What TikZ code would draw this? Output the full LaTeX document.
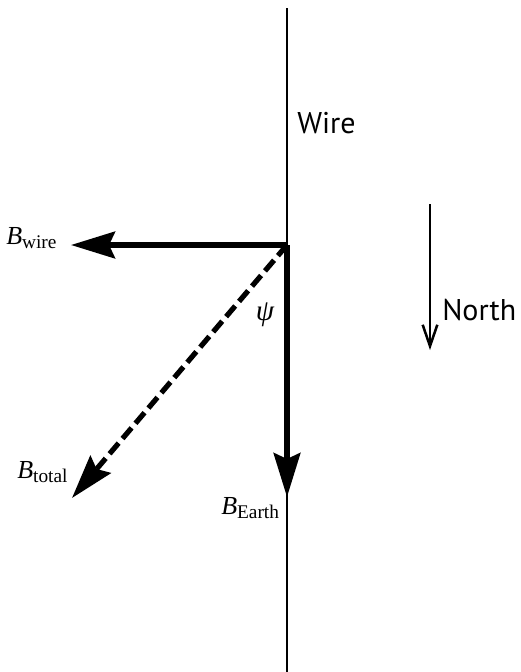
\documentclass[tikz,border=0pt]{standalone}
\usepackage{fontspec}
\setmainfont{Liberation Serif}
\newfontfamily\labelsans{PT Sans}
\usepackage{tikz}
\usetikzlibrary{arrows.meta, positioning}
\newcommand{\fieldlbl}[1]{{\fontsize{19.5}{22}\selectfont\itshape B}\raisebox{-3.5pt}{\fontsize{14.5}{16}\selectfont #1}}
\tikzset{
  %% ---- lines ----
  wireline/.style   = {line width=2pt},
  field/.style      = {-{Stealth[length=33pt, width=20pt, inset=4.5pt]},
                       line width=3.9pt},
  totalfield/.style = {field, dash pattern=on 10.5pt off 4.5pt},
  compass/.style    = {-{Straight Barb[length=16pt, width=11pt]}, line width=1.9pt},
  %% ---- labels ----
  symlbl/.style     = {inner sep=0pt, anchor=base west},
  textlbl/.style    = {inner sep=0pt, anchor=west,
                       font=\labelsans\fontsize{22.5}{26}\selectfont},
}

\begin{document}
\begin{tikzpicture}[x=0.75pt, y=-0.75pt]
\useasboundingbox (0,0) rectangle (521,672);

% Points
\coordinate (wiretop)   at (287,8);
\coordinate (wirebot)   at (287,672);
\coordinate (corner)    at (287,245);
\coordinate (bwiretip)  at (71,245);
\coordinate (bearthtip) at (287,497);
\coordinate (btotaltip) at (72,498);
\coordinate (northtop)  at (430,204);
\coordinate (northtip)  at (430,350);

% Labels
\node[symlbl]  (bwire)    at (6,244)   {\fieldlbl{wire}};
\node[symlbl]  (btotal)   at (17,478)  {\fieldlbl{total}};
\node[symlbl]  (bearth)   at (221,514) {\fieldlbl{Earth}};
\node[inner sep=0pt] (psi) at (265,315) {\fontsize{22}{24}\selectfont\itshape ψ};
\node[textlbl] (wirelbl)  at (297,123) {Wire};
\node[textlbl] (northlbl) at (442,310) {North};

% Wire
\draw[wireline] (wiretop) -- (wirebot);

% Field vectors
\draw[field]      (corner) -- (bwiretip);
\draw[field]      (corner) -- (bearthtip);
\draw[totalfield] (corner) -- (btotaltip);

% North
\draw[compass] (northtop) -- (northtip);

\end{tikzpicture}
\end{document}
